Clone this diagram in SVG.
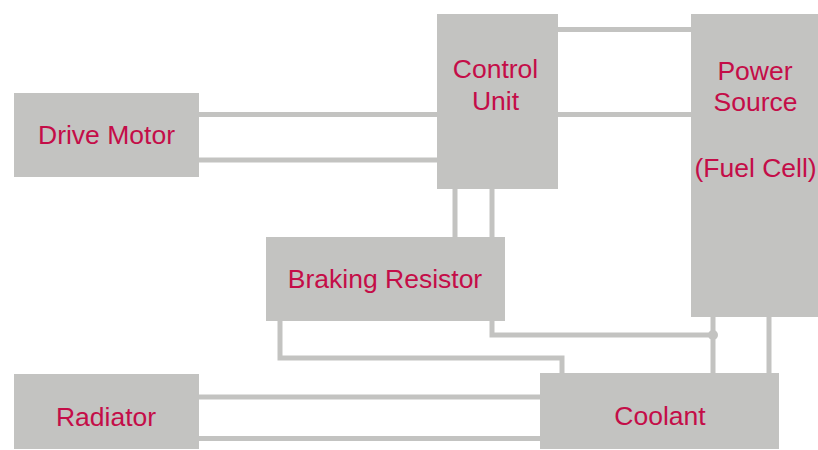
<svg xmlns="http://www.w3.org/2000/svg" width="818" height="450" viewBox="0 0 818 450">
<style>
.box{fill:#c3c3c1;}
.lbl{font-family:"Liberation Sans",Arial,sans-serif;font-size:26.5px;fill:#c40d48;text-anchor:middle;}
.wire{fill:none;stroke:#c3c3c1;stroke-width:5;}
.dot{fill:#c3c3c1;}
</style>
<rect width="818" height="450" fill="#ffffff"/>
<g id="connectors">
<line class="wire" x1="199" y1="114.5" x2="437" y2="114.5"/>
<line class="wire" x1="199" y1="160" x2="437" y2="160"/>
<line class="wire" x1="558" y1="29.5" x2="691" y2="29.5"/>
<line class="wire" x1="558" y1="114.5" x2="691" y2="114.5"/>
<line class="wire" x1="455" y1="189" x2="455" y2="237"/>
<line class="wire" x1="492" y1="189" x2="492" y2="237"/>
<polyline class="wire" points="492,320 492,335 713,335"/>
<line class="wire" x1="713" y1="317" x2="713" y2="373"/>
<line class="wire" x1="769" y1="317" x2="769" y2="373"/>
<polyline class="wire" points="280,320 280,358 562,358 562,373"/>
<line class="wire" x1="199" y1="397" x2="540" y2="397"/>
<line class="wire" x1="199" y1="438.5" x2="540" y2="438.5"/>
<circle class="dot" cx="713" cy="335" r="5"/>
</g>
<g id="drive-motor">
<rect class="box" x="14" y="93" width="185" height="84"/>
<text class="lbl" x="106.5" y="144">Drive Motor</text>
</g>
<g id="control-unit">
<rect class="box" x="437" y="14" width="121" height="175"/>
<text class="lbl" x="495.5" y="78">Control</text>
<text class="lbl" x="495.5" y="110">Unit</text>
</g>
<g id="power-source">
<rect class="box" x="691" y="14" width="130" height="303"/>
<text class="lbl" x="755" y="79.5">Power</text>
<text class="lbl" x="755.5" y="111">Source</text>
<text class="lbl" x="755.5" y="177">(Fuel Cell)</text>
</g>
<g id="braking-resistor">
<rect class="box" x="266" y="237" width="239" height="84"/>
<text class="lbl" x="385" y="288">Braking Resistor</text>
</g>
<g id="radiator">
<rect class="box" x="14" y="374" width="185" height="75"/>
<text class="lbl" x="106" y="425.5">Radiator</text>
</g>
<g id="coolant">
<rect class="box" x="540" y="373" width="239" height="76"/>
<text class="lbl" x="660" y="424.5">Coolant</text>
</g>
</svg>
